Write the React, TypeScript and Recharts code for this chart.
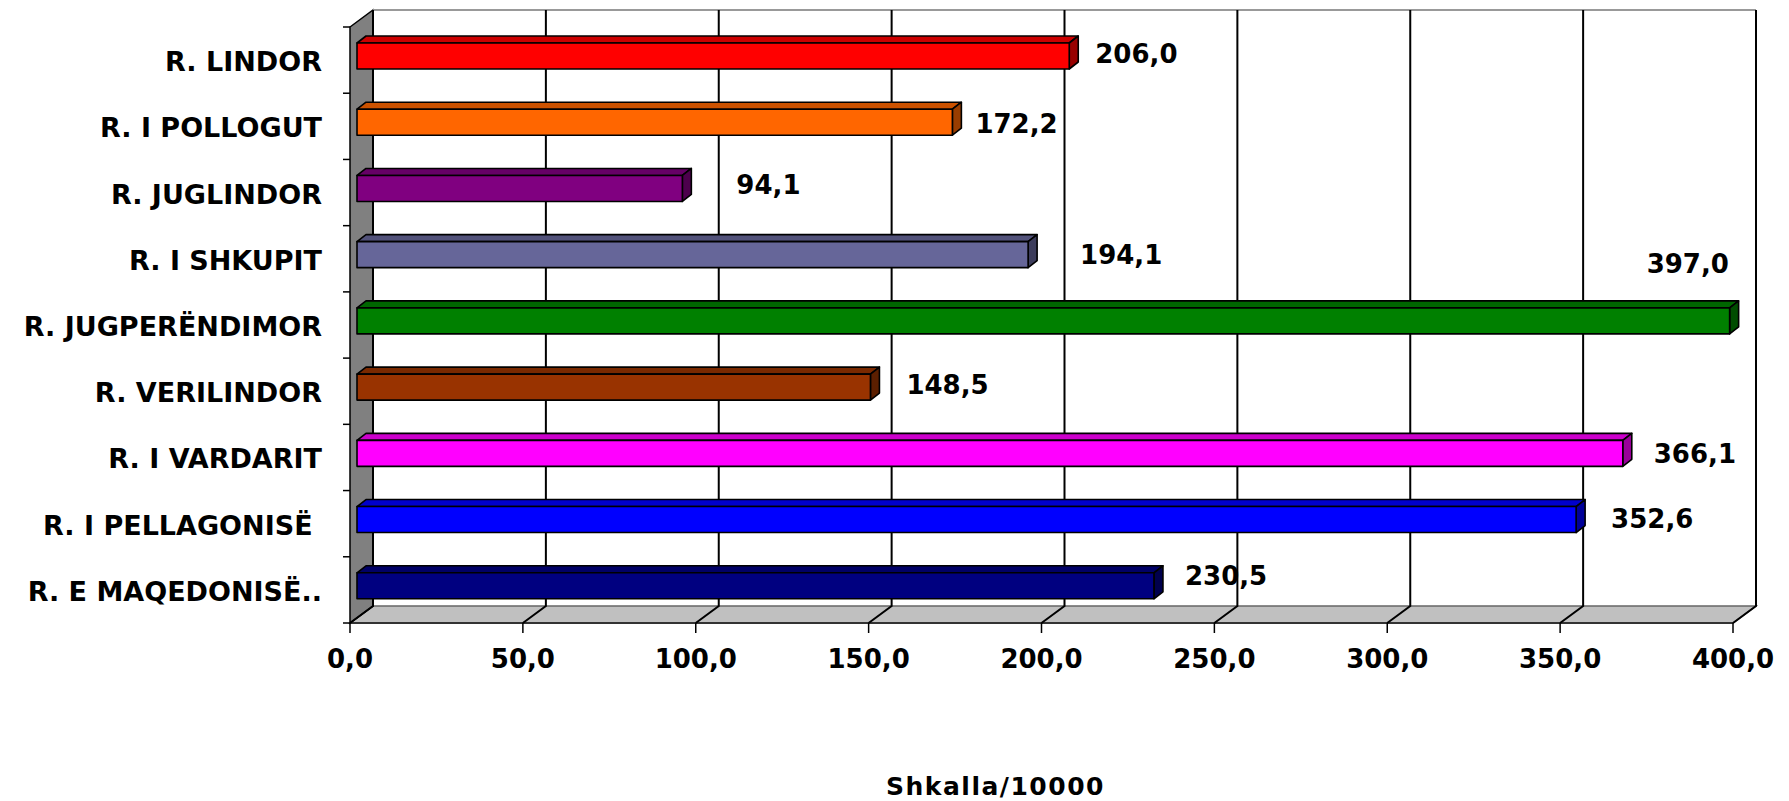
import React from 'react';
import {
  BarChart, Bar, XAxis, YAxis, CartesianGrid, ReferenceArea, LabelList, Cell, Label,
} from 'recharts';

// regions and their values (Shkalla / 10000)
const regions = [
  'R. LINDOR', 'R. I POLLOGUT', 'R. JUGLINDOR', 'R. I SHKUPIT', 'R. JUGPERËNDIMOR',
  'R. VERILINDOR', 'R. I VARDARIT', 'R. I PELLAGONISË ', 'R. E MAQEDONISË..',
];
const values = [206.0, 172.2, 94.1, 194.1, 397.0, 148.5, 366.1, 352.6, 230.5];
const barColors = [
  '#FF0000', '#FF6600', '#800080', '#666699', '#008000',
  '#993300', '#FF00FF', '#0000FF', '#000080',
];
const xTicks = [0, 50, 100, 150, 200, 250, 300, 350, 400];

// labels were dragged around by hand in the original, keep their nudges
const labelShift = [
  [26, -3], [23, 1], [54, -4], [52, 0], [-83, -57], [36, -3], [31, 0], [35, -1], [31, -10],
];

const data = regions.map((name, i) => ({ name, value: values[i] }));

// fake 3D: offsets of the front plane / back wall from the bar plane
const FRONT = { dx: -7, dy: 4 };
const BACK = { dx: 16, dy: -13 };
const DEPTH = { dx: 9, dy: 7 };

const FONT = '"DejaVu Sans", Verdana, sans-serif';

const fmt = (v: number) => v.toFixed(1).replace('.', ',');

function shade(hex: string, f: number) {
  const n = parseInt(hex.slice(1), 16);
  const r = Math.round(((n >> 16) & 255) * f);
  const g = Math.round(((n >> 8) & 255) * f);
  const b = Math.round((n & 255) * f);
  return `rgb(${r},${g},${b})`;
}

function Bar3D(props: any) {
  const { x, y, width, height, fill } = props;
  if (width == null || height == null) return null;
  const { dx, dy } = DEPTH;
  return (
    <g stroke="#000" strokeWidth={1.6} strokeLinejoin="round">
      <polygon
        points={`${x},${y} ${x + dx},${y - dy} ${x + width + dx},${y - dy} ${x + width},${y}`}
        fill={shade(fill, 0.8)}
      />
      <polygon
        points={`${x + width},${y} ${x + width + dx},${y - dy} ${x + width + dx},${y + height - dy} ${x + width},${y + height}`}
        fill={shade(fill, 0.6)}
      />
      <rect x={x} y={y} width={width} height={height} fill={fill} />
    </g>
  );
}

function Walls(props: any) {
  const { x, y, width: w, height: h } = props;
  const fx = x + FRONT.dx, fy = y + FRONT.dy;
  const bx = x + BACK.dx, by = y + BACK.dy;
  return (
    <g>
      <polygon
        points={`${fx},${fy + h} ${bx},${by + h} ${bx + w},${by + h} ${fx + w},${fy + h}`}
        fill="#C0C0C0" stroke="#666" strokeWidth={1.5}
      />
      <line x1={fx} y1={fy + h} x2={fx + w} y2={fy + h} stroke="#333" strokeWidth={2} />
      <polygon
        points={`${fx},${fy} ${bx},${by} ${bx},${by + h} ${fx},${fy + h}`}
        fill="#808080" stroke="#000" strokeWidth={1.5}
      />
      <line x1={bx} y1={by} x2={bx + w} y2={by} stroke="#999" strokeWidth={2} />
      <line x1={bx + w} y1={by} x2={bx + w} y2={by + h} stroke="#000" strokeWidth={2} />
    </g>
  );
}

function gridLine(p: any) {
  const { x1, y1, y2 } = p;
  const bx = x1 + BACK.dx;
  return (
    <path
      key={p.key}
      d={`M${bx},${y1 + BACK.dy} L${bx},${y2 + BACK.dy} L${x1 + FRONT.dx},${y2 + FRONT.dy}`}
      stroke="#000" strokeWidth={2} fill="none"
    />
  );
}

function CategoryTick(props: any) {
  const { x, y, payload, index } = props;
  const half = payload && payload.offset ? payload.offset : 33;
  const fy = y + FRONT.dy;
  const ax = x + FRONT.dx;
  return (
    <g>
      <line x1={ax - 7} x2={ax} y1={fy - half} y2={fy - half} stroke="#000" strokeWidth={1.5} />
      {index === regions.length - 1 && (
        <line x1={ax - 7} x2={ax} y1={fy + half} y2={fy + half} stroke="#000" strokeWidth={1.5} />
      )}
      <text
        x={x - 35} y={fy + 11} textAnchor="end" fontSize={27} fontWeight="bold"
        fill="#000" fontFamily={FONT} style={{ whiteSpace: 'pre' }}
      >
        {payload.value}
      </text>
    </g>
  );
}

function ValueTick(props: any) {
  const { x, y, payload } = props;
  const fx = x + FRONT.dx, fy = y + FRONT.dy;
  return (
    <g>
      <line x1={fx} x2={fx} y1={fy} y2={fy + 10} stroke="#000" strokeWidth={1.5} />
      <text x={fx} y={fy + 45} textAnchor="middle" fontSize={26} fontWeight="bold" fill="#000" fontFamily={FONT}>
        {fmt(payload.value)}
      </text>
    </g>
  );
}

function ValueLabel(props: any) {
  const { x, y, width, height, value, index } = props;
  const [dx, dy] = labelShift[index] || [30, 0];
  return (
    <text
      x={x + width + dx} y={y + height / 2 + dy + 9.5}
      fontSize={26} fontWeight="bold" fill="#000" fontFamily={FONT}
    >
      {fmt(value)}
    </text>
  );
}

export default function App() {
  return (
    <div style={{
      position: 'absolute', left: 0, top: 0, width: 1789, height: 801,
      background: '#fff', fontFamily: FONT,
    }}>
      <BarChart
        width={1789} height={801} data={data} layout="vertical"
        margin={{ top: 23, right: 49, bottom: 0, left: 0 }}
      >
        <ReferenceArea x1={0} x2={400} shape={<Walls />} ifOverflow="visible" zIndex={50} />
        <CartesianGrid horizontal={false} vertical={gridLine} zIndex={150} />
        <XAxis
          type="number" domain={[0, 400]} ticks={xTicks} interval={0}
          height={182} axisLine={false} tickLine={false} tickSize={0} tickMargin={0}
          tick={<ValueTick />}
        >
          <Label
            content={({ viewBox }: any) => (
              <text
                x={viewBox.x + viewBox.width / 2 - 53} y={viewBox.y + viewBox.height - 6}
                textAnchor="middle" fontSize={25} fontWeight="bold" fill="#000" fontFamily={FONT}
                letterSpacing={1.5}
              >
                Shkalla/10000
              </text>
            )}
          />
        </XAxis>
        <YAxis
          type="category" dataKey="name" width={357} interval={0}
          axisLine={false} tickLine={false} tickSize={0} tickMargin={0}
          tick={<CategoryTick />}
        />
        <Bar dataKey="value" barSize={26} shape={<Bar3D />} isAnimationActive={false}>
          {data.map((d, i) => <Cell key={d.name} fill={barColors[i]} />)}
          <LabelList dataKey="value" content={<ValueLabel />} />
        </Bar>
      </BarChart>
    </div>
  );
}
